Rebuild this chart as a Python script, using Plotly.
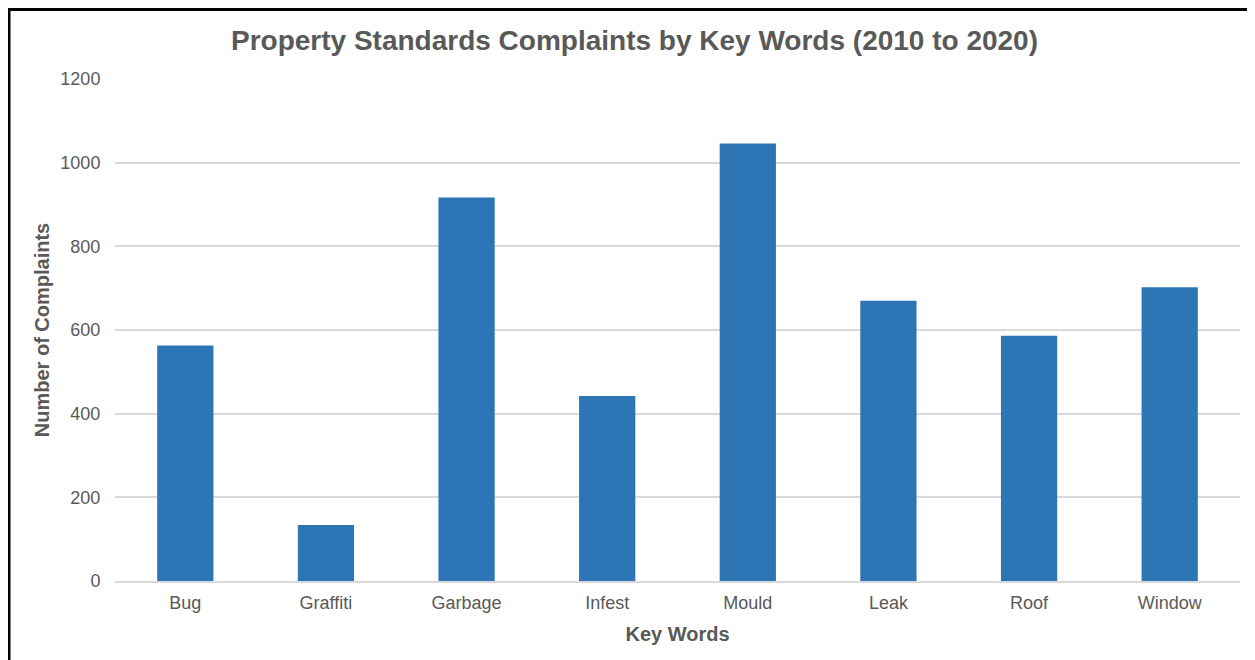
import plotly.graph_objects as go

categories = ["Bug", "Graffiti", "Garbage", "Infest", "Mould", "Leak", "Roof", "Window"]
complaints = [563, 134, 917, 442, 1046, 670, 586, 702]
y_ticks = [0, 200, 400, 600, 800, 1000, 1200]

# page has an 8px body margin; figure coordinates below are page coords minus 8
W, H = 1247, 652
L, R, T, B = 107, 15, 71, 79
pw, ph = W - L - R, H - T - B

def px_x(p):
    return (p - L) / pw

def px_y(p):
    return (H - B - p) / ph

TEXT = "#595959"
FONT = "Arial, Liberation Sans, sans-serif"

fig = go.Figure(go.Bar(
    x=categories, y=complaints,
    marker=dict(color="#2E75B6", line=dict(width=0)),
))

fig.update_layout(
    width=W, height=H,
    margin=dict(l=L, r=R, t=T, b=B),
    paper_bgcolor="white", plot_bgcolor="white",
    bargap=0.6,
    showlegend=False,
    font=dict(family=FONT, color=TEXT, size=18),
    title=dict(
        text="<b>Property Standards Complaints by Key Words (2010 to 2020)</b>",
        x=626.5 / W, xanchor="center", y=1 - 32 / H, yanchor="middle",
        font=dict(size=28, color=TEXT, family=FONT),
    ),
    xaxis=dict(
        showgrid=False, showline=True, linecolor="#D9D9D9", linewidth=1.5,
        ticks="outside", ticklen=5, tickcolor="rgba(0,0,0,0)",
        tickfont=dict(size=18, color=TEXT),
        title=dict(text="<b>Key Words</b>", font=dict(size=20, color=TEXT), standoff=15),
    ),
    yaxis=dict(
        range=[0, 1200], tickvals=y_ticks,
        showgrid=True, gridcolor="#D9D9D9", gridwidth=1.5,
        zeroline=False,
        ticks="outside", ticklen=10, tickcolor="rgba(0,0,0,0)",
        tickfont=dict(size=18, color=TEXT),
        title=dict(text="<b>Number of Complaints</b>", font=dict(size=20, color=TEXT), standoff=5),
    ),
    shapes=[
        dict(type="line", xref="paper", yref="paper",
             x0=px_x(1), x1=px_x(1), y0=px_y(0), y1=px_y(H + 5),
             line=dict(color="black", width=3)),
        dict(type="line", xref="paper", yref="paper",
             x0=px_x(0), x1=px_x(W + 5), y0=px_y(1.5), y1=px_y(1.5),
             line=dict(color="black", width=3)),
    ],
)

fig.write_html("out.html")
